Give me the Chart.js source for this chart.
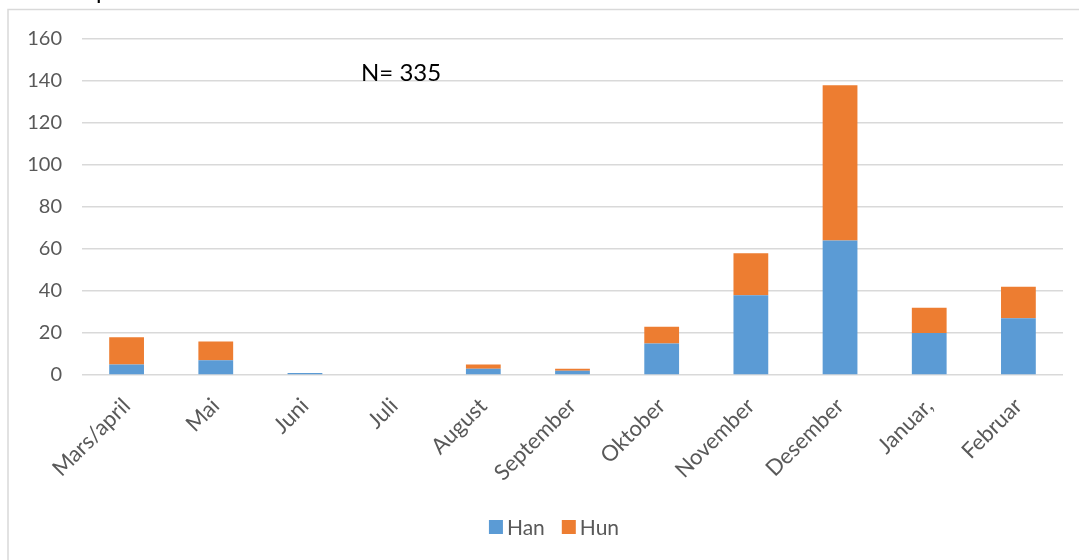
<!DOCTYPE html>
<meta charset="utf-8">
<script src="https://cdn.jsdelivr.net/npm/chart.js@4"></script>
<style>
  html, body { margin: 0; padding: 0; background: #fff; }
  #wrap { width: 1079px; height: 560px; }
</style>
<div id="wrap"><canvas id="chart"></canvas></div>
<script>
// måneder
var months = ['Mars/april', 'Mai', 'Juni', 'Juli', 'August', 'September', 'Oktober', 'November', 'Desember', 'Januar,', 'Februar'];
var han = [5, 7, 1, 0, 3, 2, 15, 38, 64, 20, 27];
var hun = [13, 9, 0, 0, 2, 1, 8, 20, 74, 12, 15];
var yTicks = [0, 20, 40, 60, 80, 100, 120, 140, 160];
var note = 'N= 335';

var txt = '#595959';
var font = 'Lato, "Noto Sans", sans-serif';

// ramme, tekst og forklaring
var extras = {
  id: 'extras',
  beforeDraw: function(chart) {
    var c = chart.ctx;
    c.save();
    c.strokeStyle = '#D9D9D9';
    c.lineWidth = 1.5;
    c.beginPath();
    c.moveTo(8, 560);
    c.lineTo(8, 9.5);
    c.lineTo(1079, 9.5);
    c.stroke();
    c.restore();
  },
  afterDraw: function(chart) {
    var c = chart.ctx;
    c.save();
    c.fillStyle = '#000';
    c.font = '24px ' + font;
    c.textBaseline = 'alphabetic';
    c.fillText('p', 96, -1);
    c.fillText(note, 361, 81);

    // legend
    c.font = '21px ' + font;
    c.textBaseline = 'middle';
    var ds = chart.data.datasets;
    var box = 14, gap = 4, sep = 17;
    var total = 0;
    ds.forEach(function(d, i) {
      total += box + gap + c.measureText(d.label).width + (i ? sep : 0);
    });
    var x = 554 - total / 2, y = 527;
    ds.forEach(function(d) {
      c.fillStyle = d.backgroundColor;
      c.fillRect(x, y - box / 2, box, box);
      x += box + gap;
      c.fillStyle = txt;
      c.fillText(d.label, x, y + 1);
      x += c.measureText(d.label).width + sep;
    });
    c.restore();
  }
};

new Chart(document.getElementById('chart'), {
  type: 'bar',
  data: {
    labels: months,
    datasets: [
      { label: 'Han', data: han, backgroundColor: '#5B9BD5', barPercentage: 0.39, categoryPercentage: 1 },
      { label: 'Hun', data: hun, backgroundColor: '#ED7D31', barPercentage: 0.39, categoryPercentage: 1 }
    ]
  },
  options: {
    responsive: true,
    maintainAspectRatio: false,
    animation: false,
    layout: { padding: { top: 39, right: 16, bottom: 0, left: 0 } },
    plugins: {
      tooltip: { enabled: false },
      legend: { display: false }
    },
    scales: {
      x: {
        stacked: true,
        grid: { display: false, drawTicks: false },
        border: { display: false },
        ticks: {
          color: txt,
          font: { family: font, size: 22 },
          minRotation: 45,
          maxRotation: 45,
          padding: 18
        },
        afterFit: function(s) { s.height = 185; }
      },
      y: {
        stacked: true,
        min: 0,
        max: 160,
        afterBuildTicks: function(s) { s.ticks = yTicks.map(function(v) { return { value: v }; }); },
        grid: { color: '#D9D9D9', lineWidth: 1.5, drawTicks: false },
        border: { display: false },
        ticks: {
          color: txt,
          font: { family: font, size: 20 },
          padding: 20
        },
        afterFit: function(s) { s.width = 82; }
      }
    }
  },
  plugins: [extras]
});
</script>
